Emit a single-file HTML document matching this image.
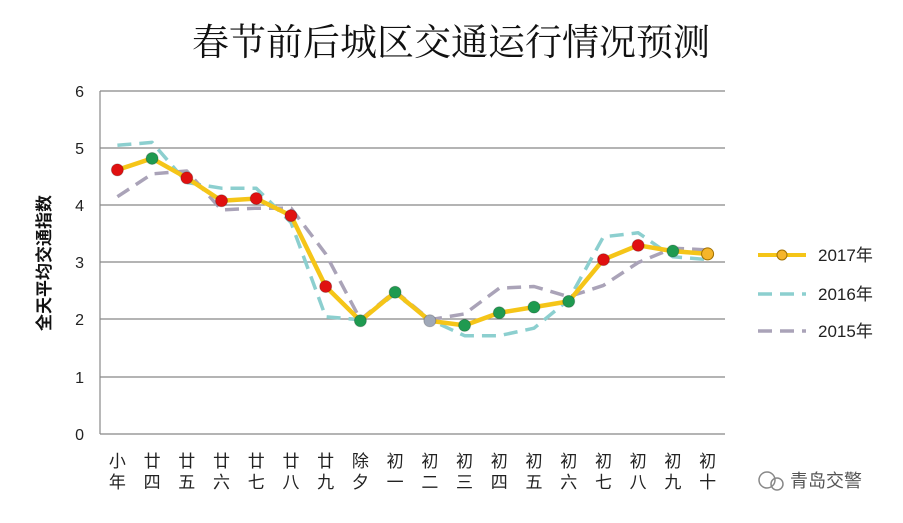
<!DOCTYPE html>
<html><head><meta charset="utf-8"><style>
body{margin:0;background:#fff;}
svg text{font-family:"Liberation Sans","Noto Sans CJK SC",sans-serif;}
</style></head><body>
<svg id="s" width="903" height="518" xmlns="http://www.w3.org/2000/svg">
<rect width="903" height="518" fill="#fff"/>
<text x="451" y="55" font-size="37" text-anchor="middle" fill="#111" style="font-family:'Noto Serif CJK SC','Noto Sans CJK SC',serif">春节前后城区交通运行情况预测</text>
<g stroke="#888" stroke-width="1.2">
<line x1="100" y1="91" x2="725" y2="91"/><line x1="100" y1="148" x2="725" y2="148"/>
<line x1="100" y1="205" x2="725" y2="205"/><line x1="100" y1="262" x2="725" y2="262"/>
<line x1="100" y1="319" x2="725" y2="319"/><line x1="100" y1="377" x2="725" y2="377"/>
<line x1="100" y1="434" x2="725" y2="434"/><line x1="100" y1="91" x2="100" y2="434"/>
</g>
<g font-size="16" fill="#222" text-anchor="end">
<text x="84" y="97">6</text><text x="84" y="154">5</text><text x="84" y="211">4</text>
<text x="84" y="268">3</text><text x="84" y="325">2</text><text x="84" y="383">1</text><text x="84" y="440">0</text>
</g>
<text transform="translate(50,263) rotate(-90)" font-size="17" font-weight="bold" text-anchor="middle" fill="#111">全天平均交通指数</text>
<g id="xl" font-size="17" fill="#222" text-anchor="middle"></g>
<g id="plot"></g>
<g font-size="17" fill="#222">
<line x1="758" y1="255" x2="806" y2="255" stroke="#f5c518" stroke-width="4"/>
<circle cx="782" cy="255" r="5" fill="#f5b52a" stroke="#a07000"/>
<text x="818" y="261">2017年</text>
<line x1="758" y1="294" x2="806" y2="294" stroke="#8ccfcf" stroke-width="3.5" stroke-dasharray="14,8"/>
<text x="818" y="300">2016年</text>
<line x1="758" y1="331" x2="806" y2="331" stroke="#aaa3b8" stroke-width="3.5" stroke-dasharray="14,8"/>
<text x="818" y="337">2015年</text>
</g>
<g fill="#666"><circle cx="767" cy="480" r="8" fill="none" stroke="#888" stroke-width="1.5"/><circle cx="777" cy="484" r="6" fill="none" stroke="#888" stroke-width="1.5"/></g>
<text x="790" y="487" font-size="18" fill="#555">青岛交警</text>
</svg>
<script>
var labs=["小年","廿四","廿五","廿六","廿七","廿八","廿九","除夕","初一","初二","初三","初四","初五","初六","初七","初八","初九","初十"];
var d17=[4.62,4.82,4.48,4.08,4.12,3.82,2.58,1.98,2.48,1.98,1.9,2.12,2.22,2.32,3.05,3.3,3.2,3.15];
var d16=[5.05,5.1,4.4,4.3,4.3,3.7,2.05,2.0,2.45,2.0,1.72,1.72,1.85,2.35,3.45,3.52,3.1,3.05];
var d15=[4.15,4.55,4.6,3.92,3.95,3.95,3.15,2.0,2.5,2.0,2.1,2.55,2.58,2.4,2.6,3.0,3.25,3.22];
var col=["#e01010","#1f9a50","#e01010","#e01010","#e01010","#e01010","#e01010","#1f9a50","#1f9a50","#a0a8b8","#1f9a50","#1f9a50","#1f9a50","#1f9a50","#e01010","#e01010","#1f9a50","#f5b52a"];
function X(i){return 100+17.36+34.72*i}function Y(v){return 434-57.17*v}
function pts(d){return d.map(function(v,i){return X(i).toFixed(1)+","+Y(v).toFixed(1)}).join(" ")}
var h="";
h+='<polyline points="'+pts(d16)+'" fill="none" stroke="#8ccfcf" stroke-width="3.5" stroke-dasharray="14,8" stroke-linejoin="round"/>';
h+='<polyline points="'+pts(d15)+'" fill="none" stroke="#aaa3b8" stroke-width="3.5" stroke-dasharray="14,8" stroke-linejoin="round"/>';
h+='<polyline points="'+pts(d17)+'" fill="none" stroke="#f5c518" stroke-width="4.5" stroke-linejoin="round"/>';
d17.forEach(function(v,i){h+='<circle cx="'+X(i)+'" cy="'+Y(v)+'" r="6" fill="'+col[i]+'" stroke="'+(i==17?"#a07000":"rgba(0,0,0,0.2)")+'"/>'});
document.getElementById("plot").innerHTML=h;
var t="";labs.forEach(function(l,i){t+='<text x="'+X(i)+'" y="467">'+l[0]+'</text><text x="'+X(i)+'" y="488">'+l[1]+'</text>'});
document.getElementById("xl").innerHTML=t;
</script>
</body></html>
